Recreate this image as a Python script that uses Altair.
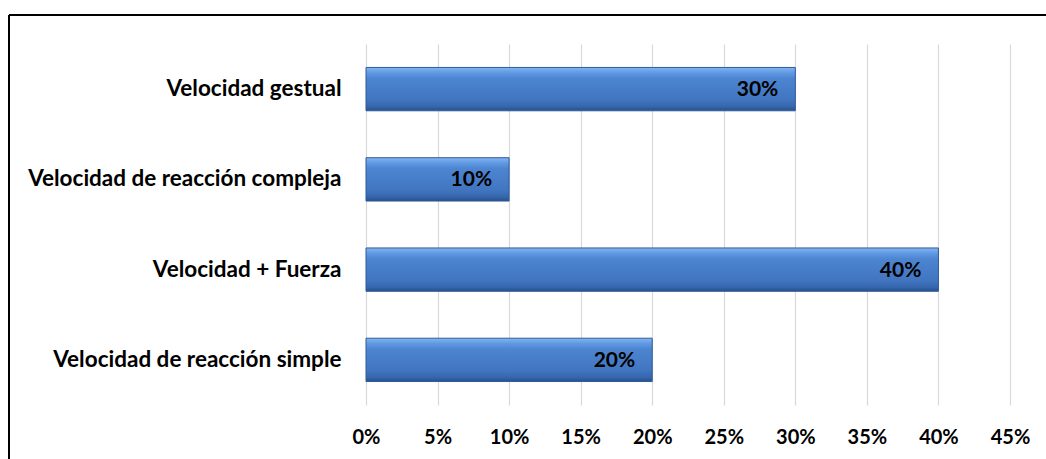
import altair as alt
import pandas as pd

categories = ["Velocidad gestual", "Velocidad de reacción compleja", "Velocidad + Fuerza", "Velocidad de reacción simple"]
values = [0.30, 0.10, 0.40, 0.20]
labels = ["30%", "10%", "40%", "20%"]

df = pd.DataFrame({"cat": categories, "val": values, "lab": labels})

FONT = "Lato"

y_enc = alt.Y("cat:N", sort=categories, title=None,
              scale=alt.Scale(paddingInner=0.52, paddingOuter=0.26),
              axis=alt.Axis(domain=False, ticks=False, labelPadding=25, labelLimit=400,
                            labelFontSize=22.5, labelFontWeight="bold",
                            labelColor="#000000", labelFont=FONT, grid=False))
x_enc = alt.X("val:Q", title=None,
              scale=alt.Scale(domain=[0, 0.45], nice=False),
              axis=alt.Axis(format=".0%", values=[0, .05, .1, .15, .2, .25, .3, .35, .4, .45],
                            domain=False, ticks=False, labelPadding=22, labelFlush=False,
                            labelFontSize=20, labelFontWeight="bold", labelColor="#000000",
                            labelFont=FONT, grid=True, gridColor="#D9D9D9", gridWidth=1.2))

bars = alt.Chart(df).mark_bar(
    stroke="#2E5C98", strokeWidth=1,
    color=alt.Gradient(
        gradient="linear", x1=0, y1=0, x2=0, y2=1,
        stops=[alt.GradientStop(offset=0, color="#85B4F2"),
               alt.GradientStop(offset=0.12, color="#619AE3"),
               alt.GradientStop(offset=0.25, color="#4D85D1"),
               alt.GradientStop(offset=0.75, color="#4175C0"),
               alt.GradientStop(offset=0.9, color="#3667AE"),
               alt.GradientStop(offset=1, color="#284F8A")])
).encode(x=x_enc, y=y_enc)

text = alt.Chart(df).mark_text(
    align="right", baseline="middle", dx=-17, dy=1,
    fontSize=21, fontWeight="bold", font=FONT, color="#000000"
).encode(x="val:Q", y=alt.Y("cat:N", sort=categories), text="lab:N")

border_left = alt.Chart(df).mark_rule(color="#000000", strokeWidth=2).encode(
    x=alt.value(-357), y=alt.value(-29), y2=alt.value(500))
border_top = alt.Chart(df).mark_rule(color="#000000", strokeWidth=2).encode(
    x=alt.value(-357), x2=alt.value(700), y=alt.value(-29))

chart = alt.layer(bars, text, border_left, border_top).properties(
    width=644, height=361,
    autosize=alt.AutoSizeParams(type="none"),
    padding={"left": 366, "top": 44, "right": 36, "bottom": 54},
    background="#FFFFFF"
).configure_view(stroke=None)

chart.save("out.html", embed_options={"renderer": "svg", "actions": False})
